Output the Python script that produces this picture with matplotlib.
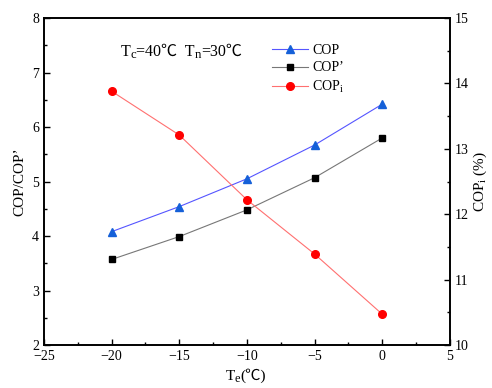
import matplotlib
matplotlib.use("Agg")
import matplotlib.pyplot as plt
from matplotlib.ticker import MultipleLocator
from matplotlib.offsetbox import TextArea, HPacker, VPacker, DrawingArea, AnchoredOffsetbox

FAMILY = ["Liberation Serif", "Noto Sans CJK SC", "DejaVu Sans"]
plt.rcParams["font.family"] = FAMILY
plt.rcParams["mathtext.fontset"] = "custom"
plt.rcParams["mathtext.rm"] = "Liberation Serif"
plt.rcParams["mathtext.it"] = "Liberation Serif"

te = [-20, -15, -10, -5, 0]
cop = [4.08, 4.54, 5.05, 5.67, 6.42]
cop_prime = [3.57, 3.99, 4.48, 5.07, 5.80]
cop_i = [13.88, 13.21, 12.22, 11.39, 10.47]


def rich_text(ax, parts, loc, anchor, size):
    # parts: (text, is_subscript); plain text keeps the font fallback list for ℃
    boxes = []
    for s, sub in parts:
        if sub:
            boxes.append(TextArea(s, textprops=dict(fontsize=size * 0.8, family=FAMILY)))
        else:
            t = TextArea(s, textprops=dict(fontsize=size, family=FAMILY))
            boxes.append(VPacker(children=[t, DrawingArea(1, 1.2)], pad=0, sep=0))
    pack = HPacker(children=boxes, align="bottom", pad=0, sep=0)
    ab = AnchoredOffsetbox(loc=loc, child=pack, pad=0, borderpad=0, frameon=False,
                           bbox_to_anchor=anchor, bbox_transform=ax.transAxes)
    ax.add_artist(ab)


fig = plt.figure(figsize=(4.92, 3.88), dpi=100)
ax = fig.add_axes([0.0894, 0.1108, 0.8252, 0.8428])
ax2 = ax.twinx()

l1, = ax.plot(te, cop, color="#5555ff", lw=0.8, marker="^", ms=5.5,
              mfc="#1560d8", mec="#1560d8", label="COP")
l2, = ax.plot(te, cop_prime, color="#777777", lw=0.8, marker="s", ms=5,
              mfc="black", mec="black", label="COP’")
l3, = ax2.plot(te, cop_i, color="#ff7070", lw=0.8, marker="o", ms=5.5,
               mfc="red", mec="red", label="COP$_\\mathrm{i}$")

ax.set_xlim(-25, 5)
ax.set_ylim(2, 8)
ax2.set_ylim(10, 15)
ax.xaxis.set_major_locator(MultipleLocator(5))
ax.xaxis.set_minor_locator(MultipleLocator(2.5))
ax.yaxis.set_major_locator(MultipleLocator(1))
ax.yaxis.set_minor_locator(MultipleLocator(0.5))
ax2.yaxis.set_major_locator(MultipleLocator(1))
ax2.yaxis.set_minor_locator(MultipleLocator(0.5))

ax.tick_params(axis="both", which="major", direction="in", length=4, width=1,
               labelsize=10, top=False)
ax.tick_params(axis="both", which="minor", direction="in", length=2.5, width=1,
               top=False)
ax2.tick_params(axis="y", which="major", direction="in", length=4, width=1, labelsize=10)
ax2.tick_params(axis="y", which="minor", direction="in", length=2.5, width=1)
for a in (ax, ax2):
    for s in a.spines.values():
        s.set_linewidth(1.2)

ax.set_ylabel("COP/COP’", fontsize=11, labelpad=4)
ax2.set_ylabel("COP$_\\mathrm{i}$ (%)", fontsize=11, labelpad=2)

# x label Te(℃)
rich_text(ax, [("T", False), ("e", True), ("(℃)", False)], "upper center",
          (0.497, -0.072), 11)
# condition note
rich_text(ax, [("T", False), ("c", True), ("=40℃  T", False), ("n", True), ("=30℃", False)],
          "center left", (0.19, 0.895), 11.5)

ax.legend(handles=[l1, l2, l3], loc="upper left", bbox_to_anchor=(0.53, 0.96),
          frameon=False, fontsize=10, handlelength=2.6, handletextpad=0.3,
          labelspacing=0.35)

fig.savefig("out.png", dpi=100)
plt.close(fig)
